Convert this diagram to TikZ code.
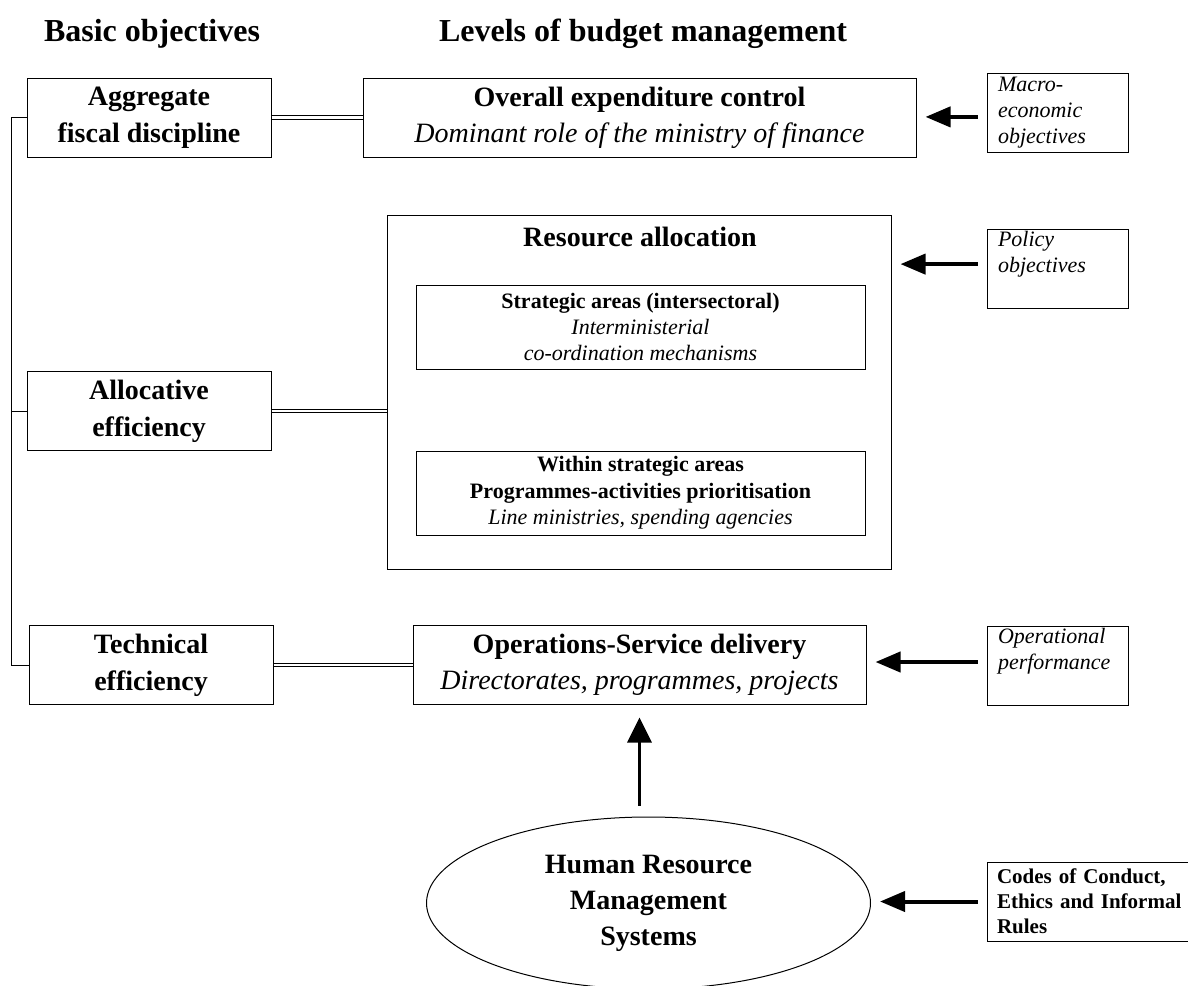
\documentclass[tikz,border=0pt]{standalone}
\usepackage{fontspec}
\setmainfont{Liberation Serif}
\usetikzlibrary{arrows.meta,shapes.geometric}

\begin{document}
\begin{tikzpicture}
          [x=0.5pt,y=-0.5pt,every node/.style={align=center, inner sep=0pt},
           box/.style={draw, line width=0.5pt, minimum height=39.5pt},
           objbox/.style={box, minimum width=122pt, font=\fontsize{14}{18.5}\selectfont\bfseries},
           lvlbox/.style={box, font=\fontsize{14}{18}\selectfont},
           subbox/.style={box, minimum width=224.5pt, minimum height=42pt, font=\fontsize{11}{13.2}\selectfont},
           note/.style={draw, line width=0.5pt, minimum width=70.5pt, minimum height=39.5pt,
                        text width=59.5pt, align=left, font=\fontsize{11}{13}\selectfont\itshape},
           hdr/.style={anchor=base, font=\fontsize{16}{19}\selectfont\bfseries},
           link/.style={double, double distance=1.2pt, line width=0.45pt},
           push/.style={line width=2pt, -{Triangle[length=12.5pt,width=10pt]}}]
        \useasboundingbox (0,0) rectangle (1188,985);

        \node[hdr] (hbasic) at (152,41) {Basic objectives};
        \node[hdr] (hlevels) at (643,41) {Levels of budget management};

        \node[objbox] (agg) at (149,117.5) {Aggregate\\fiscal discipline};
        \node[objbox] (alloc) at (149,411) {Allocative\\efficiency};
        \node[objbox] (tech) at (151,665) {Technical\\efficiency};

        \node[lvlbox, minimum width=276.5pt] (overall) at (639.5,117.5)
          {{\bfseries Overall expenditure control}\\{\itshape Dominant role of the ministry of finance}};

        \node[box, minimum width=252pt, minimum height=177pt] (resalloc) at (639,392) {};
        \node[anchor=base, font=\fontsize{14}{18}\selectfont\bfseries] (ratitle) at (640,246) {Resource allocation};
        \node[subbox] (strat) at (640.5,327)
          {{\bfseries Strategic areas (intersectoral)}\\{\itshape Interministerial}\\{\itshape co-ordination mechanisms}};
        \node[subbox] (within) at (640.5,493)
          {{\bfseries Within strategic areas}\\{\bfseries Programmes-activities prioritisation}\\{\itshape Line ministries, spending agencies}};

        \node[lvlbox, minimum width=226.5pt] (ops) at (639.5,664.5)
          {{\bfseries Operations-Service delivery}\\{\itshape Directorates, programmes, projects}};

        \node[draw, ellipse, line width=0.5pt, minimum width=222pt, minimum height=86pt,
              font=\fontsize{14}{18}\selectfont\bfseries] (hrm) at (648.5,903)
          {Human Resource\\Management\\Systems};

        \node[note] (macro) at (1057.5,112.5) {Macro-\\economic\\objectives};
        \node[note] (policy) at (1057.5,268.5) {Policy\\objectives\\\strut};
        \node[note] (operational) at (1057.5,666) {Operational\\performance\\\strut};
        \node[draw, line width=0.5pt, minimum width=105pt, minimum height=39.5pt, text width=95pt, align=left,
              font=\fontsize{10.5}{12.5}\selectfont\bfseries] (codes) at (1092,901.5)
          {Codes of Conduct,\\Ethics and Informal\\Rules};

        \coordinate (spine) at (11,117.5);
        \draw[line width=0.5pt] (agg.west) -- (spine) |- (tech.west);
        \draw[line width=0.5pt] (alloc.west) -- (alloc.west -| spine);

        \foreach \from/\to in {agg/overall, alloc/resalloc, tech/ops}
          \draw[link] (\from.east) -- (\from.east -| \to.west);

        \foreach \from/\to/\dy in {macro/overall/-2.2, policy/resalloc/2.2, operational/ops/2, codes/hrm/0}
          \draw[push, shorten >=4.5pt, shorten <=4.5pt] ([yshift=\dy pt]\from.west) -- ([yshift=\dy pt]\from.west -| \to.east);

        \draw[push, line width=1.5pt, -{Triangle[length=12.5pt,width=12pt]}, shorten >=6.5pt, shorten <=5.5pt]
          (ops.south |- hrm.north) -- (ops.south);
      \end{tikzpicture}
\end{document}
